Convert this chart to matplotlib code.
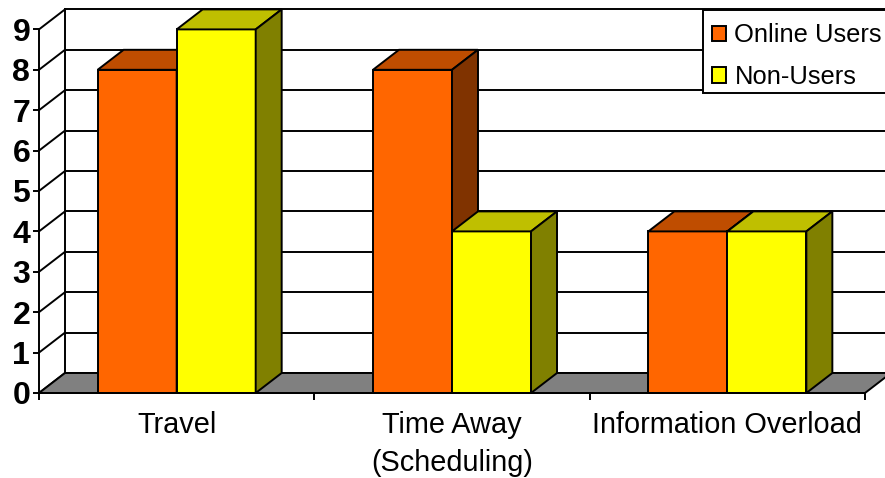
import matplotlib
matplotlib.use('Agg')
import matplotlib.pyplot as plt
from matplotlib.patches import Patch, Rectangle

categories = ['Travel', 'Time Away\n(Scheduling)', 'Information Overload']
online_users = [8, 8, 4]
non_users = [9, 4, 4]
y_ticks = [0, 1, 2, 3, 4, 5, 6, 7, 8, 9]

BAR_W = 0.287  # ширина стовпчика в одиницях категорії
DX = 0.0944  # зсув глибини по x
DY = 0.495  # зсув глибини по y
LW = 1.4

plt.rcParams['font.family'] = ['Liberation Sans', 'DejaVu Sans']


def draw_bars(ax, lefts, values, front, top, side):
    """Малює стовпчики з верхньою та бічною гранями."""
    ax.bar(lefts, values, BAR_W, align='edge', color=front, edgecolor='black',
           linewidth=LW, zorder=4, clip_on=False)
    for x, v in zip(lefts, values):
        r = x + BAR_W
        ax.fill([x, r, r + DX, x + DX], [v, v, v + DY, v + DY], facecolor=top,
                edgecolor='black', linewidth=LW, zorder=4, clip_on=False)
        ax.fill([r, r + DX, r + DX, r], [0, DY, v + DY, v], facecolor=side,
                edgecolor='black', linewidth=LW, zorder=4, clip_on=False)


def main():
    fig = plt.figure(figsize=(8.85, 4.78), dpi=100)
    ax = fig.add_axes([39 / 885, 85 / 478, 826 / 885, 363.6 / 478])
    ax.set_xlim(0, 3)
    ax.set_ylim(0, 9)
    ax.patch.set_visible(False)

    # задня стінка та ліва стінка
    for y in y_ticks:
        ax.plot([DX, 3 + DX], [y + DY, y + DY], color='black', lw=LW, zorder=1, clip_on=False)
        ax.plot([0, DX], [y, y + DY], color='black', lw=LW, zorder=1, clip_on=False)
    ax.plot([DX, DX], [DY, 9 + DY], color='black', lw=LW, zorder=1, clip_on=False)

    # підлога
    ax.fill([0, 3, 3 + DX, DX], [0, 0, DY, DY], facecolor='#808080',
            edgecolor='black', linewidth=LW, zorder=2, clip_on=False)

    centers = [i + 0.5 for i in range(len(categories))]
    draw_bars(ax, [c - BAR_W for c in centers], online_users, '#FF6600', '#BF4D00', '#803300')
    draw_bars(ax, centers, non_users, '#FFFF00', '#BFBF00', '#808000')

    for name in ['top', 'right']:
        ax.spines[name].set_visible(False)
    for name in ['left', 'bottom']:
        ax.spines[name].set_linewidth(LW)
        ax.spines[name].set_zorder(5)

    ax.set_yticks(y_ticks)
    ax.set_yticklabels([str(y) for y in y_ticks], fontsize=23, fontweight='bold')
    ax.tick_params(axis='y', length=4.3, width=LW, pad=2)

    ax.set_xticks([0, 1, 2, 3])
    ax.set_xticklabels([])
    ax.tick_params(axis='x', which='major', length=5, width=LW)
    ax.set_xticks(centers, categories, minor=True, fontsize=20.8, linespacing=1.44)
    ax.tick_params(axis='x', which='minor', length=0, pad=13)

    # рамка легенди окремо, бо вона виходить за край рисунка
    fig.add_artist(Rectangle((703 / 885, 1 - 93 / 478), 190 / 885, 83 / 478,
                             transform=fig.transFigure, facecolor='white',
                             edgecolor='black', linewidth=LW, zorder=4))
    handles = [Patch(facecolor='#FF6600', edgecolor='black', linewidth=LW),
               Patch(facecolor='#FFFF00', edgecolor='black', linewidth=LW)]
    leg = fig.legend(handles, ['Online Users', 'Non-Users'], loc='upper left',
                     bbox_to_anchor=(700 / 885, 1 - 12 / 478), borderaxespad=0,
                     fontsize=18.4, frameon=False,
                     handlelength=0.55, handleheight=0.55, handletextpad=0.35,
                     labelspacing=0.68, borderpad=0.45)
    leg.set_zorder(5)

    fig.savefig('out.png', dpi=100)


if __name__ == "__main__":
    main()
